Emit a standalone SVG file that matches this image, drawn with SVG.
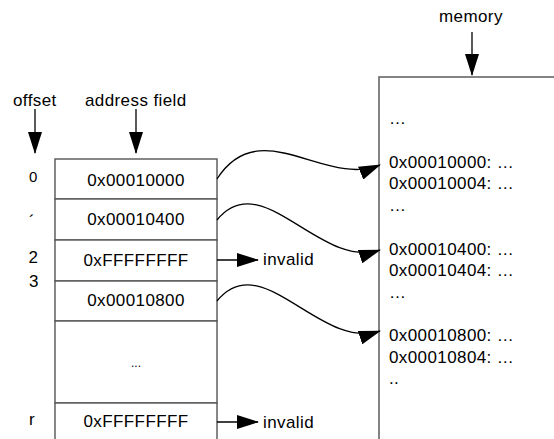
<svg xmlns="http://www.w3.org/2000/svg" width="554" height="439" viewBox="0 0 554 439">
  <style>
    text { font-family: "Liberation Sans", Arial, sans-serif; font-size: 17px; fill: #000; letter-spacing: 0.4px; }
    .cell { fill: #fff; stroke: #555; stroke-width: 1.4; }
    .mem { fill: #fff; stroke: #666; stroke-width: 1.6; }
    .mid { text-anchor: middle; }
    .conn { fill: none; stroke: #000; stroke-width: 1.3; }
  </style>
  <defs>
    <marker id="arrow" viewBox="0 0 22 14" markerWidth="22" markerHeight="14" refX="21" refY="7" orient="auto" markerUnits="userSpaceOnUse">
      <path d="M0,0 L22,7 L0,14 Z" fill="#000"/>
    </marker>
  </defs>
  <rect width="554" height="439" fill="#fff"/>

  <g id="label-offset"><text x="13" y="106">offset</text></g>
  <g id="label-address"><text x="85" y="106">address field</text></g>
  <g id="label-memory"><text x="439" y="22">memory</text></g>

  <g id="offsets">
    <text x="29" y="182" style="font-size:15px">0</text>
    <text x="29" y="227">´</text>
    <text x="28.5" y="263">2</text>
    <text x="29" y="287">3</text>
    <text x="29" y="425">r</text>
  </g>

  <g id="row0"><rect class="cell" x="55" y="159" width="162" height="40"/><text class="mid" x="136" y="186">0x00010000</text></g>
  <g id="row1"><rect class="cell" x="55" y="199" width="162" height="41"/><text class="mid" x="136" y="225">0x00010400</text></g>
  <g id="row2"><rect class="cell" x="55" y="240" width="162" height="41"/><text class="mid" x="136" y="266">0xFFFFFFFF</text></g>
  <g id="row3"><rect class="cell" x="55" y="281" width="162" height="40"/><text class="mid" x="136" y="306">0x00010800</text></g>
  <g id="row-dots"><rect class="cell" x="55" y="321" width="162" height="82"/><text class="mid" x="136" y="367" style="font-size:12px;letter-spacing:0">...</text></g>
  <g id="row-n"><rect class="cell" x="55" y="403" width="162" height="60"/><text class="mid" x="136" y="427">0xFFFFFFFF</text></g>

  <g id="memory">
    <rect class="mem" x="379" y="77" width="220" height="400"/>
    <text x="389" y="124">…</text>
    <text x="389" y="168">0x00010000: …</text>
    <text x="389" y="189">0x00010004: …</text>
    <text x="389" y="211">…</text>
    <text x="389" y="255">0x00010400: …</text>
    <text x="389" y="276">0x00010404: …</text>
    <text x="389" y="298">…</text>
    <text x="389" y="341">0x00010800: …</text>
    <text x="389" y="363">0x00010804: …</text>
    <text x="389" y="384">..</text>
  </g>

  <g id="invalid-labels">
    <text x="263" y="265">invalid</text>
    <text x="263" y="428">invalid</text>
  </g>

  <g id="connectors">
    <path class="conn" d="M35,109 L35,153" marker-end="url(#arrow)"/>
    <path class="conn" d="M136,109 L136,153" marker-end="url(#arrow)"/>
    <path class="conn" d="M472,32 L472,75" marker-end="url(#arrow)"/>
    <path class="conn" d="M217,179 C260,112 325,188 380,165" marker-end="url(#arrow)"/>
    <path class="conn" d="M217,220 C262,165 320,270 380,250" marker-end="url(#arrow)"/>
    <path class="conn" d="M217,301 C262,246 320,351 380,331" marker-end="url(#arrow)"/>
    <path class="conn" d="M217,260 L258,260" marker-end="url(#arrow)"/>
    <path class="conn" d="M217,422 L258,422" marker-end="url(#arrow)"/>
  </g>
</svg>
